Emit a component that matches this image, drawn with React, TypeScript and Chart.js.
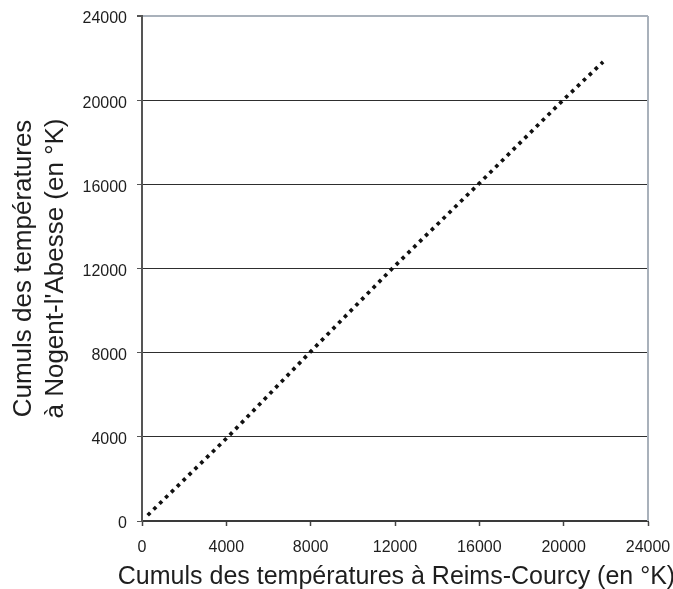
import React, { useEffect, useRef } from "react";
import { Chart, registerables } from "chart.js";

Chart.register(...registerables);

// Cumuls des températures (°K): Reims-Courcy (x) vs Nogent-l'Abesse (y)
const reimsCourcy = [270, 4080, 8000, 11870, 16000, 19970, 21870];
const nogentAbesse = [275, 4000, 8050, 12000, 16050, 20000, 21820];

const axisMin = 0;
const axisMax = 24000;
const axisStep = 4000;

const xTitle = "Cumuls des températures à Reims-Courcy (en °K)";
const yTitle = ["Cumuls des températures", "à Nogent-l'Abesse (en °K)"];

const FONT = "'Liberation Sans', Arial, Helvetica, sans-serif";
const TEXT = "#1e1e1e";
const FRAME = "#a9b1bb";

const frameBorder = {
  id: "frameBorder",
  afterDraw(chart: any) {
    const { ctx, chartArea } = chart;
    ctx.save();
    ctx.strokeStyle = FRAME;
    ctx.lineWidth = 2;
    ctx.beginPath();
    ctx.moveTo(chartArea.right, chartArea.top);
    ctx.lineTo(chartArea.right, chartArea.bottom);
    ctx.stroke();
    ctx.restore();
  },
};

// x-axis title, wider than the plot area, centred under the x scale
const xAxisTitle = {
  id: "xAxisTitle",
  afterDraw(chart: any) {
    const { ctx } = chart;
    const sx = chart.scales.x;
    ctx.save();
    ctx.fillStyle = TEXT;
    ctx.font = `25px ${FONT}`;
    ctx.textAlign = "center";
    ctx.textBaseline = "middle";
    ctx.fillText(xTitle, (sx.left + sx.right) / 2 + 1.5, sx.bottom - 12);
    ctx.restore();
  },
};

const plainNumber = (v: any) => String(v);

export default function App() {
  const ref = useRef<HTMLCanvasElement>(null);

  useEffect(() => {
    if (!ref.current) return;
    const points = reimsCourcy.map((x, i) => ({ x, y: nogentAbesse[i] }));
    const chart = new Chart(ref.current, {
      type: "scatter",
      data: {
        datasets: [
          {
            data: points,
            showLine: true,
            borderColor: "#111111",
            borderWidth: 3.7,
            borderDash: [3.6, 4.6],
            borderCapStyle: "butt",
            pointRadius: 0,
            pointHoverRadius: 0,
            fill: false,
          },
        ],
      },
      options: {
        responsive: false,
        animation: false,
        devicePixelRatio: 1,
        layout: { padding: { top: 16, right: 25, bottom: 0, left: 0 } },
        plugins: {
          legend: { display: false },
          tooltip: { enabled: false },
          title: { display: false },
        },
        scales: {
          x: {
            type: "linear",
            min: axisMin,
            max: axisMax,
            afterFit: (s: any) => {
              s.height = 68;
              s.paddingLeft = 0;
              s.paddingRight = 0;
            },
            ticks: {
              stepSize: axisStep,
              color: TEXT,
              font: { family: FONT, size: 16 },
              padding: 12,
              maxRotation: 0,
              callback: plainNumber,
            },
            grid: {
              drawOnChartArea: false,
              drawTicks: true,
              tickLength: 5,
              tickColor: "#444",
              tickWidth: 1.5,
            },
            border: { display: true, color: "#3a3a3a", width: 2 },
            title: { display: false },
          },
          y: {
            type: "linear",
            min: axisMin,
            max: axisMax,
            afterFit: (s: any) => {
              s.width = 142;
              s.paddingTop = 0;
              s.paddingBottom = 0;
            },
            ticks: {
              stepSize: axisStep,
              color: TEXT,
              font: { family: FONT, size: 16 },
              padding: 10,
              labelOffset: 3,
              callback: plainNumber,
            },
            grid: {
              drawOnChartArea: true,
              drawTicks: true,
              tickLength: 5,
              tickColor: "#555",
              color: (c: any) => (c.tick && c.tick.value === axisMax ? FRAME : "#2e2e2e"),
              lineWidth: (c: any) => (c.tick && c.tick.value === axisMax ? 2 : 1),
            },
            border: { display: true, color: "#555555", width: 2 },
            title: {
              display: true,
              text: yTitle,
              color: TEXT,
              font: { family: FONT, size: 26, lineHeight: 1.23 },
              padding: { top: 8, bottom: 0 },
            },
          },
        },
      },
      plugins: [frameBorder, xAxisTitle],
    });
    return () => chart.destroy();
  }, []);

  return (
    <div style={{ position: "fixed", left: 0, top: 0, width: 673, height: 589, background: "#fff" }}>
      <canvas ref={ref} width={673} height={589} style={{ display: "block" }} />
    </div>
  );
}
